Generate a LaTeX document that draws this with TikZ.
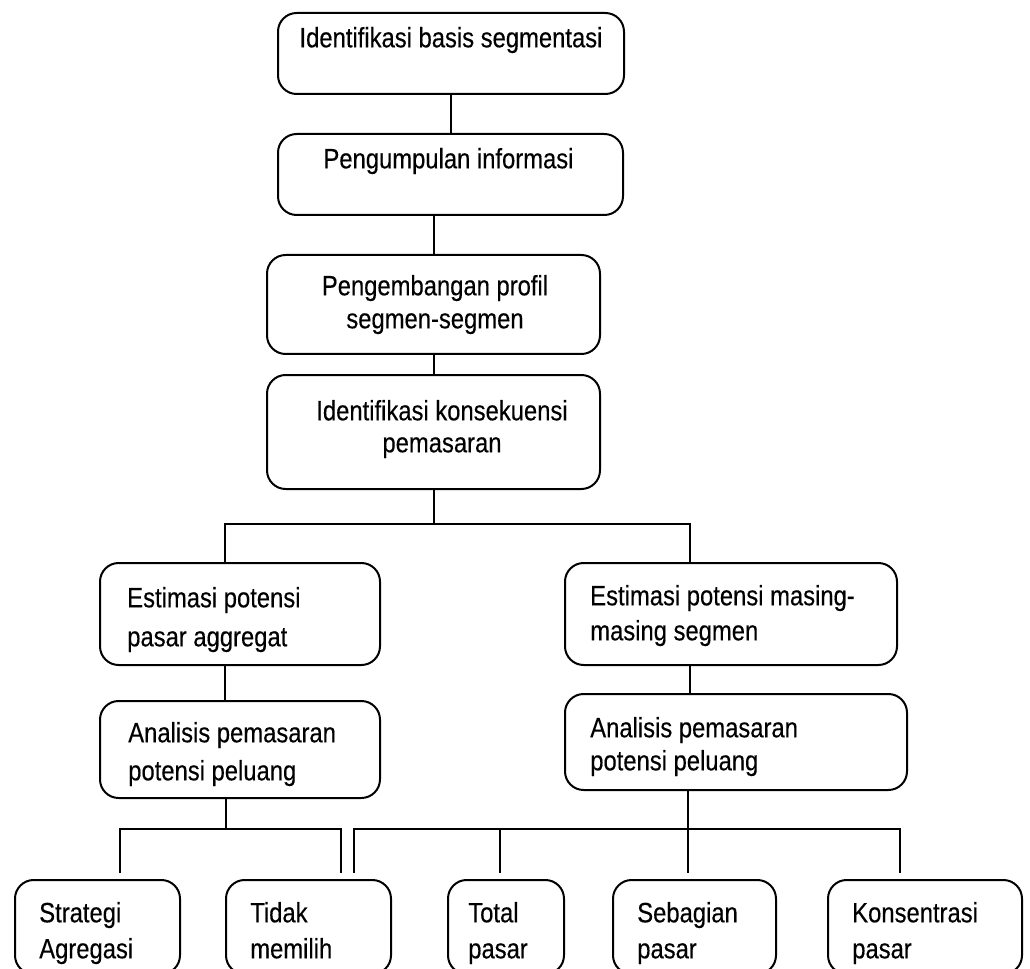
\documentclass[tikz,border=0pt]{standalone}
\usepackage{fontspec}
\setmainfont{Liberation Sans}[FakeStretch=0.85,FakeBold=0.3]
\usetikzlibrary{calc}
\begin{document}
\begin{tikzpicture}[x=0.75pt,y=-0.75pt,
  box/.style={draw, line width=1.5pt, rounded corners=14pt, inner sep=0pt},
  sz/.style 2 args={minimum width=#1*0.75pt, minimum height=#2*0.75pt},
  lbl/.style={inner sep=0pt, font=\fontsize{21}{26.25}\selectfont},
  bs/.style={font=\fontsize{21}{#1}\selectfont},
  lt/.style={lbl, anchor=north west, align=left},
  ct/.style={lbl, anchor=north, align=center},
  link/.style={line width=1.5pt},
  thick link/.style={line width=2.2pt}]
\clip (0,0) rectangle (1030,969);
% boxes
\node[box, sz={346}{81}]  (b1) at (451,53.5) {};
\node[box, sz={345}{81}]  (b2) at (450.5,174.5) {};
\node[box, sz={333}{99}]  (b3) at (433.5,304.5) {};
\node[box, sz={333}{114}] (b4) at (433.5,432) {};
\node[box, sz={280}{102}] (b5) at (240,614) {};
\node[box, sz={332}{102}] (b6) at (731,614) {};
\node[box, sz={280}{97}]  (b7) at (240,749.5) {};
\node[box, sz={342}{96}]  (b8) at (736,742) {};
\node[box, sz={165}{94}]  (c1) at (97.5,927) {};
\node[box, sz={165}{94}]  (c2) at (308.5,927) {};
\node[box, sz={116}{94}]  (c3) at (506,927) {};
\node[box, sz={163}{94}]  (c4) at (694.5,927) {};
\node[box, sz={194}{94}]  (c5) at (925,927) {};
% texts
\node[ct] (t1) at (451,25.7) {\rule{0pt}{16pt}Identifikasi basis segmentasi};
\node[ct] (t2) at (448.5,146.7) {\rule{0pt}{16pt}Pengumpulan informasi};
\node[ct, bs=24.75] (t3) at (435,273.7) {\rule{0pt}{16pt}Pengembangan profil\\segmen-segmen};
\node[ct, bs=24] (t4) at (442,398.7) {\rule{0pt}{16pt}Identifikasi konsekuensi\\pemasaran};
\node[lt, bs=29.25] (t5) at (127,585.7) {\rule{0pt}{16pt}Estimasi potensi\\pasar aggregat};
\node[lt, bs=26.25] (t6) at (590,583.7) {\rule{0pt}{16pt}Estimasi potensi masing-\\masing segmen};
\node[lt, bs=28.5] (t7) at (128,720.7) {\rule{0pt}{16pt}Analisis pemasaran\\potensi peluang};
\node[lt, bs=24.75] (t8) at (590,715.7) {\rule{0pt}{16pt}Analisis pemasaran\\potensi peluang};
\node[lt, bs=27] (u1) at (39,900.7) {\rule{0pt}{16pt}Strategi\\Agregasi};
\node[lt, bs=27] (u2) at (250,900.7) {\rule{0pt}{16pt}Tidak\\memilih};
\node[lt, bs=27] (u3) at (468,900.7) {\rule{0pt}{16pt}Total\\pasar};
\node[lt, bs=27] (u4) at (637,900.7) {\rule{0pt}{16pt}Sebagian\\pasar};
\node[lt, bs=27] (u5) at (852,900.7) {\rule{0pt}{16pt}Konsentrasi\\pasar};
% junction coordinates
\coordinate (t5x) at (225,524);
\coordinate (t6x) at (690,524);
\coordinate (s7) at (226,829);
\coordinate (l2) at (341,829);
\coordinate (e1) at (120,873);
\coordinate (e2) at (341,873);
\coordinate (e3) at (354,873);
\coordinate (r4) at (900,829);
\coordinate (e4) at (500,873);
\coordinate (e5) at (688,873);
\coordinate (e6) at (900,873);
% connectors
\draw[thick link] (b1.south) -- (b1.south |- b2.north);
\draw[link] (b3.north |- b2.south) -- (b3.north);
\draw[link] (b3.south) -- (b4.north);
\draw[link] (b4.south) -- (b4.south |- t5x);
\draw[link] (t5x |- b5.north) -- (t5x) -- (t6x) -- (t6x |- b6.north);
\draw[link] (t5x |- b5.south) -- (t5x |- b7.north);
\draw[link] (t6x |- b6.south) -- (t6x |- b8.north);
\draw[link] (s7 |- b7.south) -- (s7);
\draw[link] (e1) |- (l2) -- (e2);
\draw[link] (e3) |- (r4) -- (e6);
\draw[link] (e4) -- (e4 |- r4);
\draw[link] (e5 |- b8.south) -- (e5);
\end{tikzpicture}
\end{document}
